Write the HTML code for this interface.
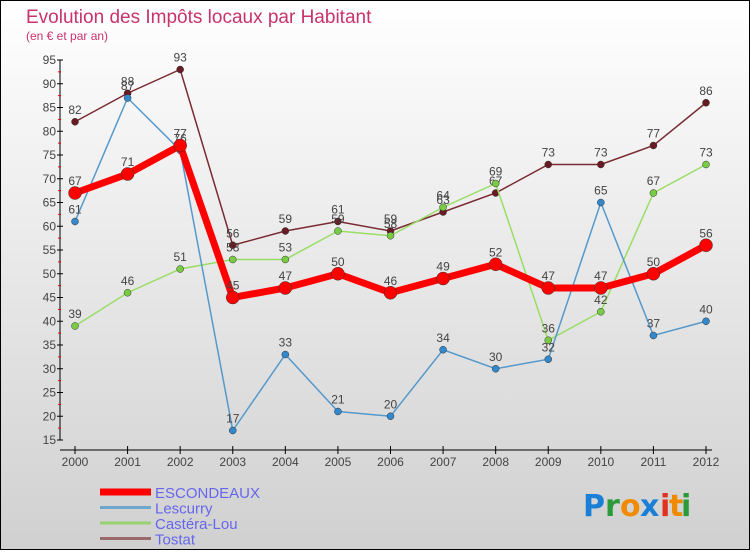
<!DOCTYPE html>
<html><head><meta charset="utf-8"><style>
html,body{margin:0;padding:0}
body{width:750px;height:550px;overflow:hidden;font-family:"Liberation Sans",sans-serif}
</style></head><body>
<svg id="c" width="750" height="550" xmlns="http://www.w3.org/2000/svg">
<defs><linearGradient id="bg" x1="0" y1="0" x2="0" y2="1"><stop offset="0" stop-color="#ffffff"/><stop offset="1" stop-color="#d0d0d0"/></linearGradient></defs>
<rect x="0.5" y="0.5" width="749" height="549" fill="url(#bg)" stroke="#000"/>
<text x="26" y="23" font-size="19" fill="#c8336a">Evolution des Impôts locaux par Habitant</text>
<text x="26" y="40" font-size="12" fill="#c8336a">(en € et par an)</text>
<g id="axes"></g><g id="series"></g><g id="legend"></g>
<g font-size="30" font-weight="bold" font-family="'DejaVu Sans',sans-serif">
<text x="583" y="516" fill="#1a7fd6">P</text><text x="605" y="516" fill="#2a9a3a">r</text><text x="620" y="516" fill="#f08a00">o</text><text x="640" y="516" fill="#1a7fd6">x</text><text x="660" y="516" fill="#e03020">i</text><text x="669" y="516" fill="#f08a00">t</text><text x="681" y="516" fill="#2a9a3a">i</text>
</g>
</svg>
<script>
const years=[2000,2001,2002,2003,2004,2005,2006,2007,2008,2009,2010,2011,2012];
const yTicks=[15,20,25,30,35,40,45,50,55,60,65,70,75,80,85,90,95];
const escondeaux=[67,71,77,45,47,50,46,49,52,47,47,50,56];
const lescurry=[61,87,76,17,33,21,20,34,30,32,65,37,40];
const casteraLou=[39,46,51,53,53,59,58,64,69,36,42,67,73];
const tostat=[82,88,93,56,59,61,59,63,67,73,73,77,86];
const NS="http://www.w3.org/2000/svg";
const X=i=>75+i*(706-75)/12;
const Y=v=>60+(95-v)*4.75;
function mk(t,a,p){const e=document.createElementNS(NS,t);for(const k in a)e.setAttribute(k,a[k]);p.appendChild(e);return e;}
const ax=document.getElementById('axes');
let l=mk('line',{x1:60,y1:60,x2:60,y2:440,stroke:'#000'},ax);


l=mk('line',{x1:60,y1:450,x2:712,y2:450,stroke:'#000'},ax);


yTicks.forEach((v,i)=>{
  mk('line',{x1:57,y1:Y(v),x2:63,y2:Y(v),stroke:'#000'},ax);
  if(i<yTicks.length-1)mk('line',{x1:58,y1:Y(v+2.5),x2:61,y2:Y(v+2.5),stroke:'#e00'},ax);
  const t=mk('text',{x:56,y:Y(v)+4,'text-anchor':'end','font-size':12,fill:'#444'},ax);
  
  
  t.textContent=v;
});
years.forEach((y,i)=>{
  mk('line',{x1:X(i),y1:446,x2:X(i),y2:454,stroke:'#000'},ax);
  const t=mk('text',{x:X(i),y:466,'text-anchor':'middle','font-size':12,fill:'#444'},ax);
  
  
  t.textContent=y;
});
const ser=[
 {name:'Tostat',d:tostat,c:'#7a2a32',w:1.5,r:3.5,f:'#6a1a22'},
 {name:'Castéra-Lou',d:casteraLou,c:'#99dd66',w:1.5,r:3.5,f:'#77cc44'},
 {name:'Lescurry',d:lescurry,c:'#5599cc',w:1.5,r:3.5,f:'#3388cc'},
 {name:'ESCONDEAUX',d:escondeaux,c:'#ff0000',w:7,r:6.5,f:'#ff0000'}];
const sg=document.getElementById('series');
ser.forEach(s=>{
  const g=mk('g',{},sg);
  
  
  const p=mk('polyline',{points:s.d.map((v,i)=>X(i)+','+Y(v)).join(' '),fill:'none',stroke:s.c,'stroke-width':s.w,'stroke-linejoin':'miter'},g);
  
  
  s.d.forEach((v,i)=>{
    const c=mk('circle',{cx:X(i),cy:Y(v),r:s.r,fill:s.f,stroke:'#333','stroke-width':0.5},g);
    
    
    const t=mk('text',{x:X(i),y:Y(v)-8,'text-anchor':'middle','font-size':12,fill:'#444'},g);
    
    
    t.textContent=v;
  });
});
const lg=document.getElementById('legend');
const leg=[['ESCONDEAUX','#ff0000',7],['Lescurry','#6fa6cc',3],['Castéra-Lou','#99d070',3],['Tostat','#9a6a6a',3]];
leg.forEach((e,i)=>{
  const y=492+i*15.5;
  const g=mk('g',{},lg);
  
  
  mk('line',{x1:100,y1:y,x2:151,y2:y,stroke:e[1],'stroke-width':e[2]},g);
  const t=mk('text',{x:155,y:y+6,'font-size':15,fill:'#6666ee'},g);
  t.textContent=e[0];
});
</script>
</body></html>
